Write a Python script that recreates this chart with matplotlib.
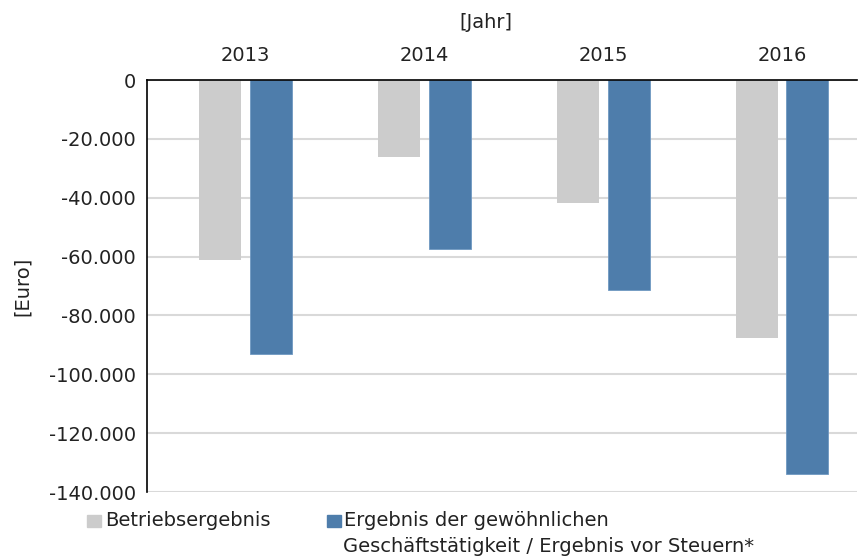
import numpy as np
import matplotlib.pyplot as plt
from matplotlib.ticker import FuncFormatter
from matplotlib.patches import Rectangle

years = ['2013', '2014', '2015', '2016']
betrieb = [-61200, -26100, -41900, -87500]
ergebnis = [-93000, -57300, -71200, -133800]
label_betrieb = 'Betriebsergebnis'
label_erg_1 = 'Ergebnis der gewöhnlichen'
label_erg_2 = 'Geschäftstätigkeit / Ergebnis vor Steuern*'

grey = '#cccccc'
blue = '#4e7dab'
W, H = 859, 556
fs = 14
tc = '#222222'

fig = plt.figure(figsize=(W/100, H/100), dpi=100)
ax = fig.add_axes([147/W, 1-492/H, (857-147)/W, (492-80)/H])

x = np.arange(len(years))
bw = 0.235
ax.bar(x - 0.14, betrieb, bw, color=grey, zorder=3)
ax.bar(x + 0.143, ergebnis, bw, color=blue, edgecolor='#6f98c2', linewidth=0.6, zorder=3)

ax.set_xlim(-0.55, 3.42)
ax.set_ylim(-140000, 0)
ax.set_yticks(np.arange(-140000, 1, 20000))
ax.yaxis.set_major_formatter(FuncFormatter(lambda v, p: f"{int(v):,}".replace(',', '.')))
ax.set_xticks(x)
ax.set_xticklabels(years)
ax.xaxis.tick_top()
ax.tick_params(axis='x', length=0, pad=11, labelsize=fs, colors=tc)
ax.tick_params(axis='y', length=0, pad=8, labelsize=fs, colors=tc)
ax.grid(axis='y', color='#d9d9d9', linewidth=1.5, zorder=0)
ax.set_axisbelow(True)

for s in ['right', 'bottom']:
    ax.spines[s].set_visible(False)
ax.spines['top'].set_color('black')
ax.spines['top'].set_linewidth(1.2)
ax.spines['top'].set_zorder(4)
ax.spines['left'].set_color('black')
ax.spines['left'].set_linewidth(1.2)

fig.text(486/W, 1-22/H, '[Jahr]', ha='center', va='center', fontsize=fs, color=tc)
fig.text(22/W, 1-286/H, '[Euro]', ha='center', va='center', rotation=90, fontsize=fs, color=tc)

# legend
fig.add_artist(Rectangle((87/W, 1-527/H), 14/W, 12/H, transform=fig.transFigure, color=grey))
fig.text(105/W, 1-520/H, label_betrieb, ha='left', va='center', fontsize=fs, color=tc)
fig.add_artist(Rectangle((327/W, 1-527/H), 14/W, 12/H, transform=fig.transFigure, color=blue))
fig.text(344/W, 1-520/H, label_erg_1, ha='left', va='center', fontsize=fs, color=tc)
fig.text(343/W, 1-547/H, label_erg_2, ha='left', va='center', fontsize=fs, color=tc)

fig.savefig('out.png', dpi=100)
